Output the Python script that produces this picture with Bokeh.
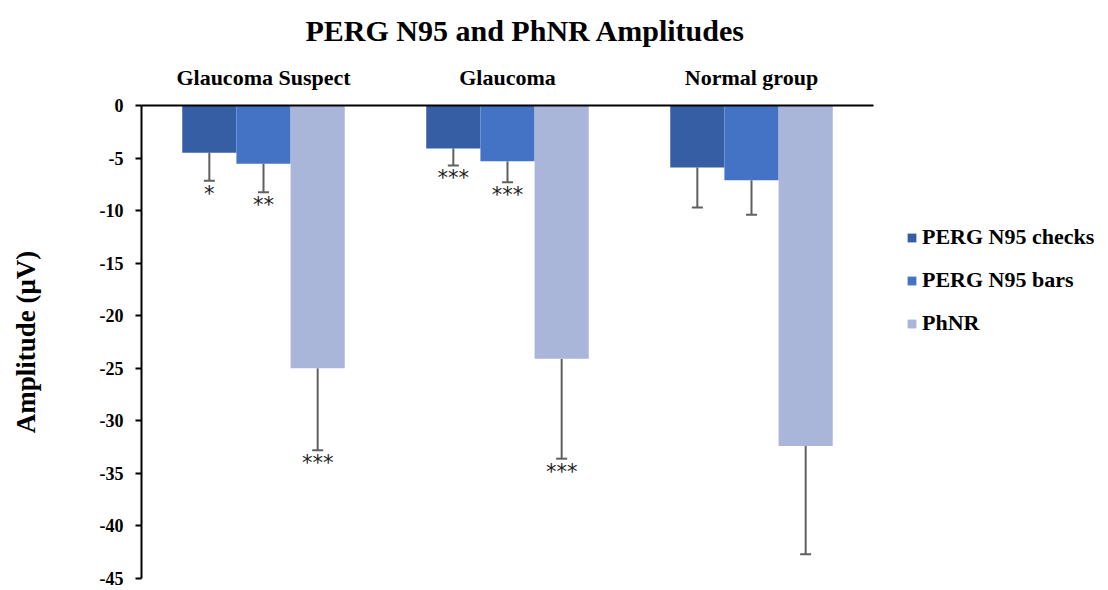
from bokeh.plotting import figure
from bokeh.models import (ColumnDataSource, Range1d, Whisker, TeeHead,
                          Legend, LegendItem, FixedTicker)
from bokeh.core.properties import value
from bokeh.embed import file_html
from bokeh.resources import INLINE

groups = ["Glaucoma Suspect", "Glaucoma", "Normal group"]
series_names = ["PERG N95 checks", "PERG N95 bars", "PhNR"]
checks = [-4.5, -4.1, -5.9]
checks_err = [2.65, 1.6, 3.8]
bars = [-5.55, -5.3, -7.1]
bars_err = [2.7, 2.0, 3.3]
phnr = [-25.0, -24.1, -32.4]
phnr_err = [7.8, 9.5, 10.3]
checks_sig = ["*", "***", ""]
bars_sig = ["**", "***", ""]
phnr_sig = ["***", "***", ""]
y_ticks = [0, -5, -10, -15, -20, -25, -30, -35, -40, -45]

colors = ["#365EA5", "#4472C4", "#A9B6DA"]
offsets = [-0.222, 0.0, 0.222]
bar_w = 0.222
SERIF = "Liberation Serif"

W, H = 1108, 590
LEFT, TOP, BOTTOM = 141, 104, 12
AXIS_W = 732  # pixel width of the category axis
n = len(groups)
x_end = n * (W - LEFT) / AXIS_W

p = figure(width=W, height=H, x_range=Range1d(0, x_end),
           y_range=Range1d(min(y_ticks), max(y_ticks)),
           x_axis_location="above", output_backend="svg", toolbar_location=None,
           min_border_left=LEFT, min_border_right=0, min_border_top=TOP,
           min_border_bottom=BOTTOM)
p.outline_line_color = None
p.grid.visible = False
p.background_fill_color = "white"
p.border_fill_color = "white"

# title
p.title.text = "PERG N95 and PhNR Amplitudes"
p.title.text_font = SERIF
p.title.text_font_style = "bold"
p.title.text_font_size = "30px"
p.title.align = "left"
p.title.offset = 164
p.title.vertical_align = "top"
p.title.standoff = 26
p.title.text_color = "black"

# top categorical axis
centers = [i + 0.5 for i in range(n)]
xa = p.xaxis[0]
xa.ticker = FixedTicker(ticks=centers)
xa.major_label_overrides = {c: g for c, g in zip(centers, groups)}
xa.bounds = (0, n)
xa.axis_line_color = "black"
xa.axis_line_width = 2
xa.major_tick_line_color = None
xa.minor_tick_line_color = None
xa.major_label_text_font = SERIF
xa.major_label_text_font_style = "bold"
xa.major_label_text_font_size = "22px"
xa.major_label_text_color = "black"
xa.major_label_standoff = 10

# left axis
ya = p.yaxis[0]
ya.ticker = FixedTicker(ticks=y_ticks)
ya.major_label_overrides = {t: str(t) for t in y_ticks}
ya.axis_line_color = "black"
ya.axis_line_width = 2
ya.major_tick_line_color = "black"
ya.major_tick_line_width = 2
ya.major_tick_out = 6
ya.major_tick_in = 0
ya.minor_tick_line_color = None
ya.major_label_text_font = SERIF
ya.major_label_text_font_style = "bold"
ya.major_label_text_font_size = "18px"
ya.major_label_text_color = "black"
ya.major_label_standoff = 12
ya.axis_label = "Amplitude (μV)"
ya.axis_label_text_font = SERIF
ya.axis_label_text_font_style = "bold"
ya.axis_label_text_font_size = "27px"
ya.axis_label_text_color = "black"
ya.axis_label_standoff = 56

vals_all = [checks, bars, phnr]
errs_all = [checks_err, bars_err, phnr_err]
sigs_all = [checks_sig, bars_sig, phnr_sig]

items = []
for name, vals, errs, sigs, col, off in zip(series_names, vals_all, errs_all, sigs_all, colors, offsets):
    src = ColumnDataSource(dict(
        x=[c + off for c in centers],
        val=vals,
        lower=[v - e for v, e in zip(vals, errs)],
        sig=sigs,
    ))
    r = p.vbar(x="x", top=0, bottom="val", width=bar_w, source=src,
               fill_color=col, line_color=None)
    items.append(LegendItem(label=name, renderers=[r]))
    w = Whisker(base="x", upper="val", lower="lower", source=src,
                line_color="#606060", line_width=2,
                lower_head=TeeHead(size=11, line_color="#606060", line_width=2),
                upper_head=None)
    p.add_layout(w)
    p.text(x="x", y="lower", text="sig", source=src,
           text_font=value("DejaVu Sans"), text_font_size="21px",
           text_color="#222222", text_align="center", text_baseline="alphabetic",
           y_offset=13)

legend = Legend(items=items, location=(765, 242), orientation="vertical")
legend.label_text_font = SERIF
legend.label_text_font_style = "bold"
legend.label_text_font_size = "22px"
legend.label_text_color = "black"
legend.glyph_width = 11
legend.glyph_height = 11
legend.label_height = 20
legend.label_standoff = 5
legend.spacing = 17
legend.padding = 0
legend.margin = 0
legend.border_line_color = None
legend.background_fill_alpha = 0
p.add_layout(legend, "center")

open("out.html", "w").write(file_html(p, INLINE))
